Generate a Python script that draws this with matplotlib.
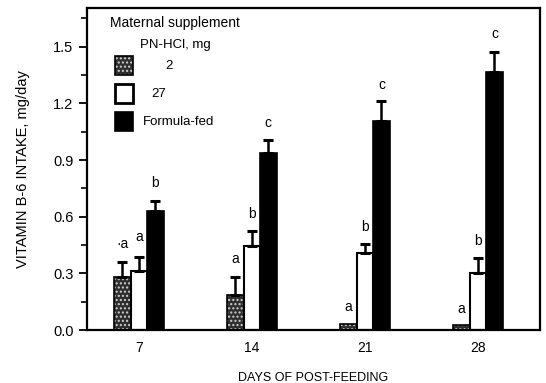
import matplotlib
matplotlib.use("Agg")
import matplotlib.pyplot as plt
import numpy as np
from matplotlib.patches import Rectangle

plt.rcParams['font.family'] = ['Liberation Sans', 'DejaVu Sans']

days = [7, 14, 21, 28]
pn2 = [0.283, 0.186, 0.032, 0.028]
pn2_err = [0.076, 0.094, 0.0, 0.0]
pn27 = [0.315, 0.444, 0.409, 0.30]
pn27_err = [0.074, 0.083, 0.047, 0.08]
formula = [0.63, 0.939, 1.107, 1.367]
formula_err = [0.056, 0.069, 0.106, 0.107]
letters_pn2 = ["\u00b7a", "a", "a", "a"]
letters_pn27 = ["a", "b", "b", "b"]
letters_formula = ["b", "c", "c", "c"]
letter_y_pn2 = [0.456, 0.377, 0.12, 0.111]
letter_y_pn27 = [0.492, 0.616, 0.548, 0.47]
letter_y_formula = [0.778, 1.097, 1.297, 1.566]
legend_labels = ['2', '27', 'Formula-fed']

fig = plt.figure(figsize=(5.46, 3.83), dpi=100)
ax = fig.add_axes([0.159, 0.138, 0.830, 0.841])

x = np.array(days, dtype=float)
w = 1.02

# stippled bars: dark fill with light dots, then black outline
ax.bar(x - w, pn2, w, color='#2e2e2e', edgecolor='#d0d0d0', hatch='....', linewidth=0)
ax.bar(x - w, pn2, w, fill=False, edgecolor='black', linewidth=1.2)
ax.bar(x, pn27, w, color='white', edgecolor='black', linewidth=1.5)
ax.bar(x + w, formula, w, color='black', edgecolor='black', linewidth=1.2)

for xs, vals, errs in [(x - w, pn2, pn2_err), (x, pn27, pn27_err), (x + w, formula, formula_err)]:
    e = np.array(errs)
    m = e > 0
    ax.errorbar(xs[m], np.array(vals)[m], yerr=[np.zeros(m.sum()), e[m]], fmt='none',
                ecolor='black', elinewidth=1.8, capsize=3.5, capthick=2.2)

for xs, labs, ys in [(x - w, letters_pn2, letter_y_pn2), (x, letters_pn27, letter_y_pn27),
                     (x + w, letters_formula, letter_y_formula)]:
    for xi, lab, yi in zip(xs, labs, ys):
        ax.text(xi, yi, lab, ha='center', va='center', fontsize=10)

ax.set_xlim(3.78, 31.84)
ax.set_ylim(0, 1.705)
ax.set_xticks(days)
ax.set_xticklabels([str(d) for d in days])
ax.tick_params(axis='x', length=0, labelsize=10, pad=8)
ax.set_yticks([0.0, 0.3, 0.6, 0.9, 1.2, 1.5])
ax.set_yticklabels(['0.0', '0.3', '0.6', '0.9', '1.2', '1.5'])
ax.set_yticks(np.arange(0.15, 1.7, 0.3), minor=True)
ax.tick_params(axis='y', which='major', length=6, width=1.3, labelsize=10.5, direction='out')
ax.tick_params(axis='y', which='minor', length=4, width=1.2, direction='out')
for s in ax.spines.values():
    s.set_linewidth(1.6)

ax.set_xlabel('DAYS OF POST-FEEDING', fontsize=9, labelpad=12)
ax.set_ylabel('VITAMIN B-6 INTAKE, mg/day', fontsize=10.5, labelpad=17)

# hand-placed legend block in the upper left
ta = ax.transAxes
ax.text(0.051, 0.953, 'Maternal supplement', transform=ta, fontsize=10, va='center')
ax.text(0.117, 0.885, 'PN-HCl, mg', transform=ta, fontsize=9.5, va='center')
box_bottoms = [0.792, 0.705, 0.618]
label_x = [0.174, 0.143, 0.124]
bw, bh = 0.040, 0.058
ax.add_patch(Rectangle((0.062, box_bottoms[0]), bw, bh, transform=ta, facecolor='#2e2e2e',
                       edgecolor='#d0d0d0', hatch='....', linewidth=0))
ax.add_patch(Rectangle((0.062, box_bottoms[0]), bw, bh, transform=ta, fill=False,
                       edgecolor='black', linewidth=1.2))
ax.add_patch(Rectangle((0.062, box_bottoms[1]), bw, bh, transform=ta, facecolor='white',
                       edgecolor='black', linewidth=2))
ax.add_patch(Rectangle((0.062, box_bottoms[2]), bw, bh, transform=ta, facecolor='black',
                       edgecolor='black', linewidth=1.2))
for lab, lx, by in zip(legend_labels, label_x, box_bottoms):
    ax.text(lx, by + bh / 2, lab, transform=ta, fontsize=9.5, va='center')

fig.savefig('out.png', dpi=100)
